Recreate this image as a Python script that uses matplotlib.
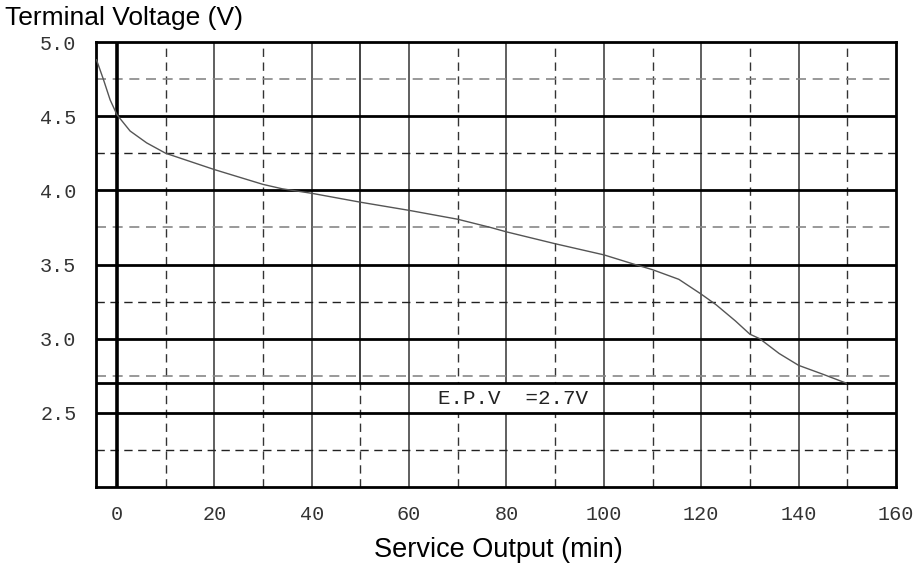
import matplotlib
matplotlib.use("Agg")
import matplotlib.pyplot as plt

# ---- data ----
time_min = [-4.2, -2.8, -1.4, 0, 2.7, 6.1, 10, 20, 30, 34, 40, 50, 60, 70, 76.7, 80,
            85, 90, 100, 106.4, 110, 115.4, 120, 123, 127, 130, 132, 136, 140, 145, 149.8]
voltage = [4.88, 4.75, 4.61, 4.51, 4.40, 4.32, 4.25, 4.14, 4.04, 4.01, 3.98, 3.92, 3.865,
           3.805, 3.75, 3.72, 3.68, 3.64, 3.565, 3.5, 3.465, 3.40, 3.30, 3.23, 3.12, 3.03,
           3.0, 2.90, 2.82, 2.76, 2.70]

x_ticks = [0, 20, 40, 60, 80, 100, 120, 140, 160]
x_tick_labels = ["0", "20", "40", "60", "80", "100", "120", "140", "160"]
y_ticks = [2.5, 3.0, 3.5, 4.0, 4.5, 5.0]
y_tick_labels = ["2.5", "3.0", "3.5", "4.0", "4.5", "5.0"]
x_major_grid = [20, 40, 60, 80, 100, 120, 140]
x_minor_grid = [10, 30, 70, 90, 110, 130, 150]
x_split_grid = 50          # solid above end-point voltage, dashed below
y_major_grid = [2.5, 3.0, 3.5, 4.0, 4.5]
y_minor_grid_gray = [4.75, 3.75, 2.75]
y_minor_grid_dark = [4.25, 3.25, 2.25]
end_point_voltage = 2.7
epv_label = "E.P.V  =2.7V"
epv_label_pos = (81.3, 2.6)
epv_box_x = (60.4, 99.6)
epv_box_y = (2.5, 2.7)

xlabel = "Service Output (min)"
ylabel = "Terminal Voltage (V)"

tick_font = "Liberation Mono"

# ---- figure ----
fig = plt.figure(figsize=(9.22, 5.63), dpi=100)
ax = fig.add_axes([96/922, 1-487/563, (896-96)/922, (487-42)/563])
ax.set_xlim(-4.3, 160)
ax.set_ylim(2.0, 5.0)

dash = (0, (6, 4))
for xv in x_minor_grid:
    ax.axvline(xv, color="#333333", lw=1.0, ls=dash, zorder=1)
for xv in x_major_grid:
    ax.axvline(xv, color="#444444", lw=1.2, zorder=1)
ax.plot([x_split_grid, x_split_grid], [end_point_voltage, 5.0], color="#222222", lw=1.2, zorder=1)
ax.plot([x_split_grid, x_split_grid], [2.0, end_point_voltage], color="#333333", lw=1.0, ls=dash, zorder=1)

for yv in y_minor_grid_gray:
    ax.axhline(yv, color="#888888", lw=1.2, ls=dash, zorder=1)
for yv in y_minor_grid_dark:
    ax.axhline(yv, color="#222222", lw=1.0, ls=dash, zorder=1)

# white label box hiding the grid behind the E.P.V text
ax.fill_between(list(epv_box_x), epv_box_y[0], epv_box_y[1], color="white", lw=0, zorder=1.5)

for yv in y_major_grid:
    ax.axhline(yv, color="black", lw=2.0, zorder=2)
ax.axhline(end_point_voltage, color="black", lw=2.0, zorder=2)
ax.axvline(0, color="black", lw=2.6, zorder=2)

ax.plot(time_min, voltage, color="#555555", lw=1.0, zorder=3)

ax.text(epv_label_pos[0], epv_label_pos[1], epv_label, family=tick_font,
        fontsize=15, ha="center", va="center", color="#222222", zorder=4)

for s in ax.spines.values():
    s.set_linewidth(2.0)
    s.set_color("black")

ax.set_xticks(x_ticks)
ax.set_xticklabels(x_tick_labels, family=tick_font, fontsize=14.5, color="#333333")
ax.set_yticks(y_ticks)
ax.set_yticklabels(y_tick_labels, family=tick_font, fontsize=14.5, color="#333333")
ax.tick_params(axis="both", length=0)
ax.tick_params(axis="x", pad=13)
ax.tick_params(axis="y", pad=14)

fig.text(5/922, 1-18/563, ylabel, family="Liberation Sans", fontsize=19,
         ha="left", va="center", color="black")
fig.text(498/922, 1-550/563, xlabel, family="Liberation Sans", fontsize=19.5,
         ha="center", va="center", color="black")

fig.savefig("out.png", dpi=100)
